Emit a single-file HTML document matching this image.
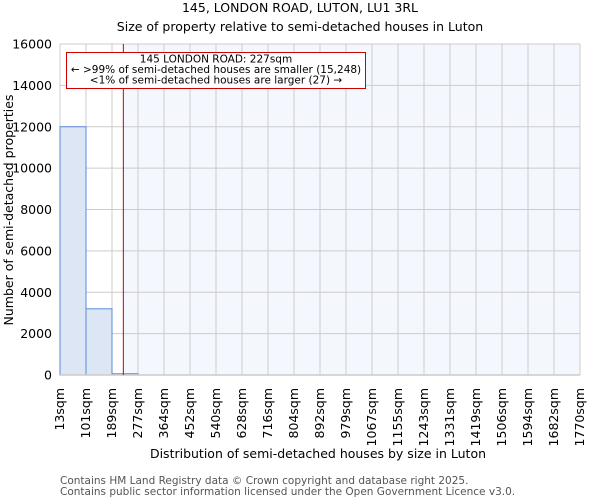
<!DOCTYPE html>
<html><head><meta charset="utf-8"><style>
body{margin:0;background:#fff;font-family:"DejaVu Sans","Liberation Sans",sans-serif}
</style></head><body>
<svg id="chart" width="600" height="500" xmlns="http://www.w3.org/2000/svg" font-family="DejaVu Sans, Liberation Sans, sans-serif">
<text x="300" y="12" text-anchor="middle" font-size="12.5" fill="#000">145, LONDON ROAD, LUTON, LU1 3RL</text>
<text x="300" y="31" text-anchor="middle" font-size="12.5" fill="#000">Size of property relative to semi-detached houses in Luton</text>
<g id="plot"></g>
<text x="318" y="458" text-anchor="middle" font-size="12.5">Distribution of semi-detached houses by size in Luton</text>
<text transform="translate(13,210) rotate(-90)" text-anchor="middle" font-size="12.5">Number of semi-detached properties</text>
<text x="60" y="484" font-size="10.5" fill="#555">Contains HM Land Registry data © Crown copyright and database right 2025.</text>
<text x="60" y="495" font-size="10.5" fill="#555">Contains public sector information licensed under the Open Government Licence v3.0.</text>
</svg>
<script>
const binLabels=["13sqm","101sqm","189sqm","277sqm","364sqm","452sqm","540sqm","628sqm","716sqm","804sqm","892sqm","979sqm","1067sqm","1155sqm","1243sqm","1331sqm","1419sqm","1506sqm","1594sqm","1682sqm","1770sqm"];
const counts=[12000,3200,60,0,0,0,0,0,0,0,0,0,0,0,0,0,0,0,0,0];
const yTicks=[0,2000,4000,6000,8000,10000,12000,14000,16000];
const subjectSize=227;
const binStart=13, binWidth=87.85;
const L=60,R=580,T=44,B=375,yMax=16000;
const nb=counts.length, bw=(R-L)/nb;
const xs=v=>L+(v-binStart)/(binWidth*nb)*(R-L);
const ys=v=>B-v/yMax*(B-T);
const NS="http://www.w3.org/2000/svg";
const g=document.getElementById('plot');
function mk(t,a){const e=document.createElementNS(NS,t);for(const k in a)e.setAttribute(k,a[k]);g.appendChild(e);return e;}
const rx=xs(subjectSize);
let e=mk('rect',{x:L,y:T,width:rx-L,height:B-T,fill:'#fff'});


e=mk('rect',{x:rx,y:T,width:R-rx,height:B-T,fill:'#f4f7fd'});


for(let i=0;i<=nb;i++){e=mk('line',{x1:L+i*bw,x2:L+i*bw,y1:T,y2:B,stroke:'#ccc','stroke-width':1});

}
yTicks.forEach(v=>{e=mk('line',{x1:L,x2:R,y1:ys(v),y2:ys(v),stroke:'#ccc','stroke-width':1});


e=mk('text',{x:L-8,y:ys(v)+4.5,'text-anchor':'end','font-size':'12.5'});e.textContent=v;

});
counts.forEach((c,i)=>{if(c<=0)return;e=mk('rect',{x:L+i*bw,y:ys(c),width:bw,height:B-ys(c),fill:'#dce6f4',stroke:'#5b8ad6','stroke-width':1});

});
e=mk('line',{x1:L,x2:R,y1:B,y2:B,stroke:'#ccc','stroke-width':1.5});


binLabels.forEach((s,i)=>{const x=L+i*bw+4;e=mk('text',{transform:`translate(${x},388) rotate(-90)`,'text-anchor':'end','font-size':'12.5'});e.textContent=s;

});
e=mk('line',{x1:rx,x2:rx,y1:T,y2:B,stroke:'#c00','stroke-width':1});


e=mk('rect',{x:66.5,y:52.5,width:299,height:36,fill:'#fff',stroke:'#c00','stroke-width':1});


["145 LONDON ROAD: 227sqm","← >99% of semi-detached houses are smaller (15,248)","<1% of semi-detached houses are larger (27) →"].forEach((t,i)=>{e=mk('text',{x:216,y:62.5+i*10.5,'text-anchor':'middle','font-size':'10.5'});e.textContent=t;

});
</script>
</body></html>
